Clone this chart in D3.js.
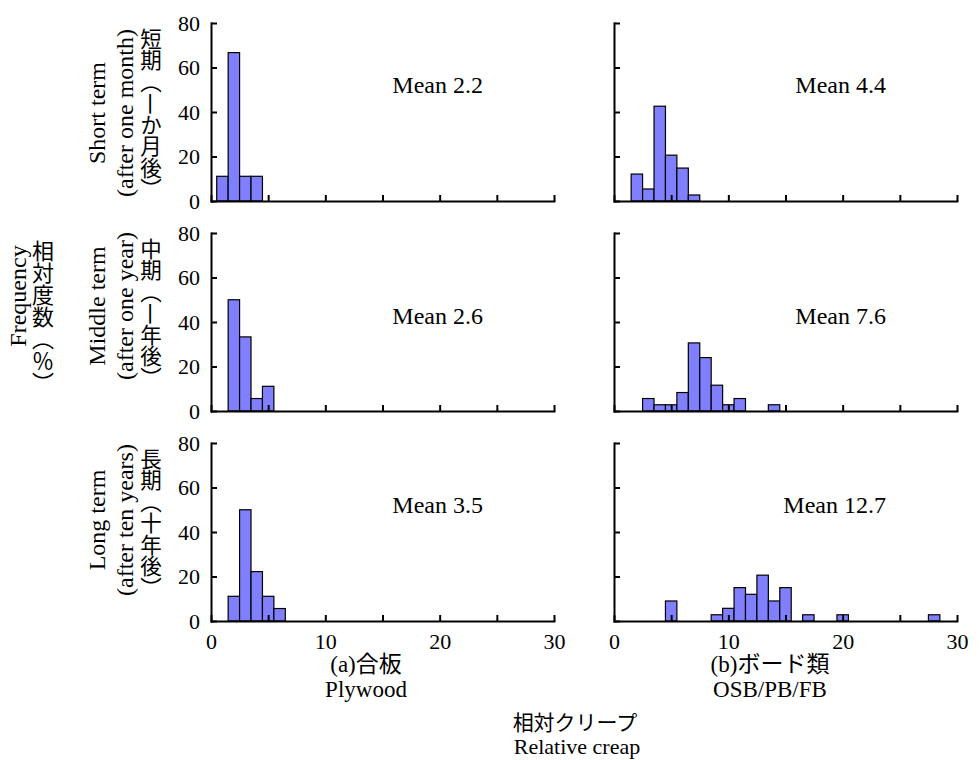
<!DOCTYPE html>
<html>
<head>
<meta charset="utf-8">
<script src="https://cdn.jsdelivr.net/npm/d3@7/dist/d3.min.js"></script>
<style>
  body { margin: 0; background: #fff; }
  text { font-family: "Liberation Serif", "Times New Roman", "Noto Sans CJK JP"; fill: #000; }
  .ja { font-family: "Noto Sans CJK JP"; }
</style>
</head>
<body>
<div id="chart"></div>
<script>
// Histogram bins (centre of each 1-wide relative creep class) and frequency (%)
const plyShortBins = [1, 2, 3, 4];
const plyShortFreq = [11.1, 66.7, 11.1, 11.1];
const plyMiddleBins = [2, 3, 4, 5];
const plyMiddleFreq = [50, 33.3, 5.6, 11.1];
const plyLongBins = [2, 3, 4, 5, 6];
const plyLongFreq = [11.1, 50, 22.2, 11.1, 5.6];

const boardShortBins = [2, 3, 4, 5, 6, 7];
const boardShortFreq = [12.1, 5.4, 42.6, 20.6, 14.8, 2.7];
const boardMiddleBins = [3, 4, 5, 6, 7, 8, 9, 10, 11, 14];
const boardMiddleFreq = [5.6, 2.8, 2.8, 8.3, 30.6, 24, 11.6, 2.8, 5.6, 2.8];
const boardLongBins = [5, 9, 10, 11, 12, 13, 14, 15, 17, 20, 28];
const boardLongFreq = [9, 2.8, 5.7, 15, 12, 20.6, 9, 15, 2.8, 2.8, 2.8];

const meanPly = ["Mean 2.2", "Mean 2.6", "Mean 3.5"];
const meanBoard = ["Mean 4.4", "Mean 7.6", "Mean 12.7"];

const rowNamesEn = [
  ["Short term", "(after one month)"],
  ["Middle term", "(after one year)"],
  ["Long term", "(after ten years)"]
];
// each entry split round the dash-like 一, which is drawn sideways in the figure
const rowNamesJa = [
  ["短期（", "一", "か月後）"],
  ["中期（", "一", "年後）"],
  ["長期（十年後）"]
];
const colNamesJa = ["(a)合板", "(b)ボード類"];
const colNamesEn = ["Plywood", "OSB/PB/FB"];

const yTicks = [0, 20, 40, 60, 80];
const xTicks = [0, 5, 10, 15, 20, 25, 30];

const panels = [
  { col: 0, row: 0, bins: plyShortBins, freq: plyShortFreq, mean: meanPly[0] },
  { col: 0, row: 1, bins: plyMiddleBins, freq: plyMiddleFreq, mean: meanPly[1] },
  { col: 0, row: 2, bins: plyLongBins, freq: plyLongFreq, mean: meanPly[2] },
  { col: 1, row: 0, bins: boardShortBins, freq: boardShortFreq, mean: meanBoard[0] },
  { col: 1, row: 1, bins: boardMiddleBins, freq: boardMiddleFreq, mean: meanBoard[1] },
  { col: 1, row: 2, bins: boardLongBins, freq: boardLongFreq, mean: meanBoard[2] }
];

// Layout
const width = 980;
const height = 760;
const colX = [211, 614];
const rowY = [23, 233, 443];
const panelW = 343;
const panelH = 178;
const meanBaseline = [70, 91, 70];
const enCentre = [113, 306, 520];

const svg = d3
  .select('#chart')
  .append('svg')
  .attr('width', width)
  .attr('height', height);

const x = d3.scaleLinear().domain([0, 30]).range([0, panelW]);
const y = d3.scaleLinear().domain([0, 80]).range([panelH, 0]);

function styleAxis(g) {
  g.select('.domain').attr('stroke', '#000').attr('stroke-width', 2).attr('stroke-linecap', 'square');
  g.selectAll('.tick line').attr('stroke', '#000').attr('stroke-width', 2);
  g.selectAll('.tick text')
    .attr('fill', '#000')
    .style('font-family', '"Liberation Serif", "Times New Roman"')
    .style('font-size', '22px');
}

panels.forEach((p) => {
  const g = svg
    .append('g')
    .attr('transform', `translate(${colX[p.col]},${rowY[p.row]})`);

  const bars = p.bins.map((b, i) => ({ bin: b, freq: p.freq[i] }));

  g.selectAll('.bar')
    .data(bars)
    .enter()
    .append('rect')
    .attr('class', 'bar')
    .attr('x', (d) => x(d.bin - 0.5))
    .attr('width', x(1) - x(0))
    .attr('y', (d) => y(d.freq))
    .attr('height', (d) => y(0) - y(d.freq))
    .attr('fill', '#8080ff')
    .attr('stroke', '#000')
    .attr('stroke-width', 1.2);

  // ticks point inwards and sit on top of the bars
  const xAxis = d3
    .axisBottom(x)
    .tickValues(xTicks)
    .tickSizeInner(-6)
    .tickSizeOuter(0)
    .tickPadding(12)
    .tickFormat((d) => (p.row === 2 && d % 10 === 0 ? d : ''));

  g.append('g')
    .attr('transform', `translate(0,${panelH})`)
    .call(xAxis)
    .call(styleAxis);

  const yAxis = d3
    .axisLeft(y)
    .tickValues(yTicks)
    .tickSizeInner(-6)
    .tickSizeOuter(0)
    .tickPadding(11)
    .tickFormat((d) => (p.col === 0 ? d : ''));

  g.append('g').call(yAxis).call(styleAxis);

  g.append('text')
    .attr('x', 272)
    .attr('y', meanBaseline[p.row])
    .attr('text-anchor', 'end')
    .style('font-size', '24px')
    .text(p.mean);
});

// Row labels (English rotated, Japanese in vertical writing)
rowNamesEn.forEach((lines, i) => {
  lines.forEach((line, j) => {
    svg.append('text')
      .attr('transform', `translate(${105 + j * 28},${enCentre[i]}) rotate(-90)`)
      .attr('text-anchor', 'middle')
      .style('font-size', '24px')
      .text(line);
  });
});

rowNamesJa.forEach((parts, i) => {
  const t = svg.append('text')
    .attr('class', 'ja')
    .attr('x', 151)
    .attr('y', rowY[i] + 5)
    .style('writing-mode', 'vertical-rl')
    .style('font-size', '21.5px');
  parts.forEach((s) => {
    const ts = t.append('tspan').text(s);
    if (s === '一') ts.style('text-orientation', 'sideways');
  });
});

// Shared y label
svg.append('text')
  .attr('transform', 'translate(26,296) rotate(-90)')
  .attr('text-anchor', 'middle')
  .style('font-size', '24px')
  .text('Frequency');

svg.append('text')
  .attr('class', 'ja')
  .attr('x', 43)
  .attr('y', 240)
  .style('writing-mode', 'vertical-rl')
  .style('font-size', '22px')
  .text('相対度数（％）');

// Column and shared x labels
const colCentre = [366, 770];
colNamesJa.forEach((s, i) => {
  svg.append('text')
    .attr('x', colCentre[i])
    .attr('y', 672)
    .attr('text-anchor', 'middle')
    .style('font-size', '23px')
    .text(s);
  svg.append('text')
    .attr('x', colCentre[i])
    .attr('y', 697)
    .attr('text-anchor', 'middle')
    .style('font-size', '23px')
    .text(colNamesEn[i]);
});

svg.append('text')
  .attr('class', 'ja')
  .attr('x', 575)
  .attr('y', 730)
  .attr('text-anchor', 'middle')
  .style('font-size', '21px')
  .text('相対クリープ');

svg.append('text')
  .attr('x', 577)
  .attr('y', 754)
  .attr('text-anchor', 'middle')
  .style('font-size', '22px')
  .text('Relative creap');
</script>
</body>
</html>
